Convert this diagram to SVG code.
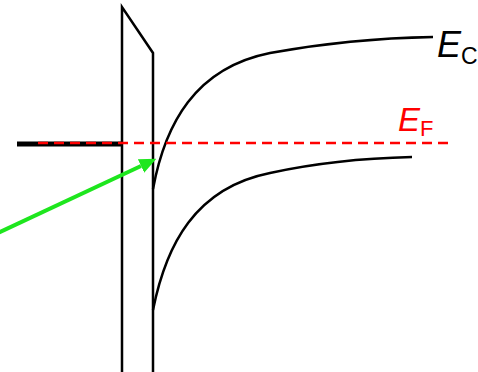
<svg xmlns="http://www.w3.org/2000/svg" width="478" height="372" viewBox="0 0 478 372">
<style>
.ln{fill:none;stroke:#000;stroke-width:2.5;stroke-linejoin:miter}
.lbl{font-family:"Liberation Sans",Arial,sans-serif;font-style:italic}
.sub{font-style:normal}
</style>
<defs>
<marker id="ah" markerWidth="17" markerHeight="15" refX="0" refY="7.5" orient="auto" markerUnits="userSpaceOnUse">
<path d="M0,0 L17,7.5 L0,15 z" fill="#1ee61e"/>
</marker>
</defs>
<rect width="478" height="372" fill="#fff"/>
<g id="barrier">
<path class="ln" d="M122,372 L122,7 L153,53 L153,372"/>
</g>
<g id="metal">
<line x1="17" y1="144" x2="122" y2="144" stroke="#000" stroke-width="5"/>
</g>
<g id="bands">
<path id="Ec" class="ln" d="M153,189 C165,124 195,68 270,53 C330,42 380,38 433,37"/>
<path id="Ev" class="ln" d="M153,310 C166,245 195,188 270,173 C320,162 370,158 412,157"/>
</g>
<g id="fermi">
<line x1="38" y1="143" x2="453" y2="143" stroke="#ff0000" stroke-width="2.3" stroke-dasharray="10,6"/>
</g>
<g id="connectors">
<line x1="-2" y1="233" x2="141" y2="166" stroke="#1ee61e" stroke-width="4" marker-end="url(#ah)"/>
</g>
<g id="label-Ec">
<text class="lbl" x="437" y="57" font-size="36" fill="#000">E<tspan class="sub" font-size="23" dy="7">C</tspan></text>
</g>
<g id="label-Ef">
<text class="lbl" x="398" y="131" font-size="33" fill="#ff0000">E<tspan class="sub" font-size="22" dy="5">F</tspan></text>
</g>
</svg>
